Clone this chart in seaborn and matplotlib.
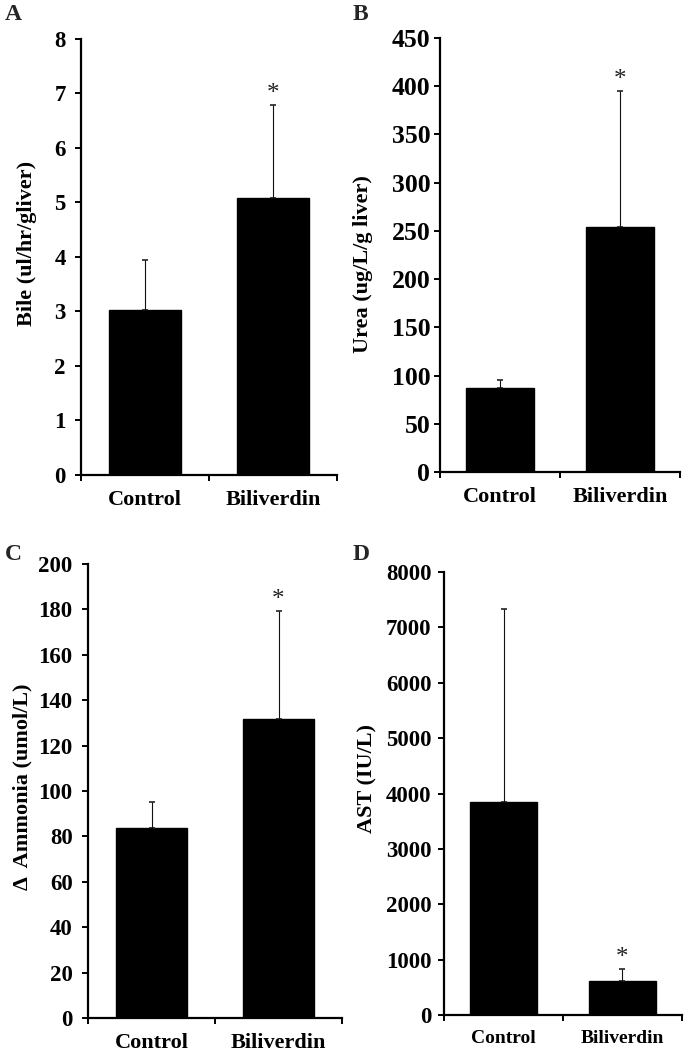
import numpy as np
import matplotlib
matplotlib.use("Agg")
import matplotlib.pyplot as plt
import seaborn as sns

# --- 1. DATA ---
groups = ["Control", "Biliverdin"]

bile_mean = [3.03, 5.09]
bile_err = [0.91, 1.70]

urea_mean = [86.8, 253.7]
urea_err = [8.9, 141.7]

ammonia_mean = [83.7, 131.9]
ammonia_err = [11.4, 47.2]

ast_mean = [3855, 614]
ast_err = [3482, 217]

# which bar carries the significance star
bile_star = [False, True]
urea_star = [False, True]
ammonia_star = [False, True]
ast_star = [False, True]

# --- 2. STYLE ---
sns.set_theme(style="ticks")
plt.rcParams["font.family"] = ["Liberation Serif", "DejaVu Serif"]
plt.rcParams["font.weight"] = "bold"
plt.rcParams["axes.labelweight"] = "bold"

fig = plt.figure(figsize=(6.85, 10.56), dpi=100)


def draw_panel(rect, means, errs, stars, ylim, step, ylabel, label_xy, tick_pad,
               letter, letter_xy, ytick_size=17, xtick_size=16):
    """One Excel-style bar panel: black bars, upper error bars, star on top."""
    ax = fig.add_axes(rect)
    sns.barplot(x=groups, y=means, color="black", saturation=1, width=0.56,
                errorbar=None, ax=ax, edgecolor="black")
    ax.errorbar(x=np.arange(len(groups)), y=means,
                yerr=[np.zeros(len(errs)), errs], fmt="none",
                ecolor="#111111", elinewidth=0.8, capsize=2.4, capthick=1.1)

    for i, flag in enumerate(stars):
        if flag:
            ax.annotate("*", xy=(i, means[i] + errs[i]), xytext=(0, 0),
                        textcoords="offset points", ha="center", va="bottom",
                        fontsize=18, fontweight="normal", color="#222222")

    ax.set_xlim(-0.5, 1.5)
    ax.set_ylim(*ylim)
    ax.set_yticks(np.arange(ylim[0], ylim[1] + step / 2, step))
    ax.set_xticks([-0.5, 0.5, 1.5], minor=True)

    sns.despine(ax=ax)
    for side in ["left", "bottom"]:
        ax.spines[side].set_linewidth(1.6)
        ax.spines[side].set_color("black")

    ax.tick_params(axis="y", direction="out", length=4, width=1.4,
                   labelsize=ytick_size, pad=tick_pad, colors="black")
    ax.tick_params(axis="x", which="major", length=0, labelsize=xtick_size,
                   pad=11, colors="black")
    ax.tick_params(axis="x", which="minor", direction="out", length=4,
                   width=1.4, color="black")

    ax.set_xlabel("")
    ax.set_ylabel(ylabel, fontsize=16, color="black")
    ax.yaxis.set_label_coords(*label_xy)

    fig.text(letter_xy[0], letter_xy[1], letter, fontsize=17, fontweight="bold",
             ha="center", va="center")
    return ax


# --- 3. PANELS ---
draw_panel([0.1182, 0.5502, 0.3737, 0.4129], bile_mean, bile_err, bile_star,
           (0, 8), 1, "Bile (ul/hr/gliver)", (-0.172, 0.53), 7, "A",
           (13 / 685, 1 - 15 / 1056), ytick_size=16.5)

draw_panel([0.6423, 0.5530, 0.3504, 0.4110], urea_mean, urea_err, urea_star,
           (0, 450), 50, "Urea (ug/L/g liver)", (-0.279, 0.48), 3, "B",
           (360 / 685, 1 - 15 / 1056), ytick_size=18.5)

draw_panel([0.1285, 0.0360, 0.3708, 0.4299], ammonia_mean, ammonia_err, ammonia_star,
           (0, 200), 20, "\u0394  Ammonia (umol/L)", (-0.22, 0.51), 7, "C",
           (13 / 685, 1 - 555 / 1056), ytick_size=16.5)

draw_panel([0.6482, 0.0388, 0.3474, 0.4195], ast_mean, ast_err, ast_star,
           (0, 8000), 1000, "AST (IU/L)", (-0.28, 0.535), 5, "D",
           (361 / 685, 1 - 555 / 1056), ytick_size=16.5, xtick_size=14)

fig.savefig("out.png", dpi=100)
